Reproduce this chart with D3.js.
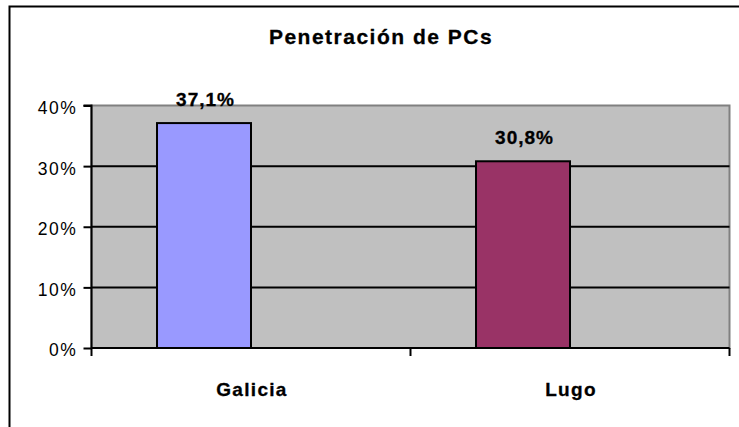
<!DOCTYPE html>
<html><head><meta charset="utf-8">
<script src="https://cdn.jsdelivr.net/npm/d3@7"></script>
<style>body{margin:0;background:#fff;}svg{display:block;}</style>
</head><body>
<svg id="c" width="739" height="427"></svg>
<script>
const categories = ["Galicia", "Lugo"];
const values = [0.371, 0.308];
const valueLabels = ["37,1%", "30,8%"];
const colors = ["#9999FF", "#993366"];
const yTicks = [0, 0.1, 0.2, 0.3, 0.4];
const yTickLabels = ["0%", "10%", "20%", "30%", "40%"];
const title = "Penetración de PCs";

const svg = d3.select("#c");
const font = "'Liberation Sans', Arial, sans-serif";

// outer frame
svg.append("rect").attr("x", 9.5).attr("y", 6.5).attr("width", 800).attr("height", 500)
  .attr("fill", "#fff").attr("stroke", "#000").attr("stroke-width", 2);

const x = d3.scaleBand().domain(categories).range([91.5, 729.5]).padding(0);
const xs = d3.scaleBand().domain(["s1", "s2"]).range([0, x.bandwidth()]).paddingInner(0).paddingOuter(0.697);
const y = d3.scaleLinear().domain([0, 0.4]).range([348, 105.5]);

// plot area
svg.append("rect").attr("x", x.range()[0]).attr("y", y(0.4))
  .attr("width", x.range()[1] - x.range()[0]).attr("height", y(0) - y(0.4))
  .attr("fill", "#C0C0C0").attr("stroke", "#808080").attr("stroke-width", 2);

// gridlines
svg.append("g").selectAll("line").data(yTicks.filter(t => t > 0 && t < 0.4)).join("line")
  .attr("x1", x.range()[0]).attr("x2", x.range()[1])
  .attr("y1", d => y(d)).attr("y2", d => y(d))
  .attr("stroke", "#000").attr("stroke-width", 2);

// bars
svg.append("g").selectAll("rect").data(categories).join("rect")
  .attr("x", d => x(d) + xs("s1"))
  .attr("y", (d, i) => y(values[i]))
  .attr("width", xs.bandwidth())
  .attr("height", (d, i) => y(0) - y(values[i]))
  .attr("fill", (d, i) => colors[i])
  .attr("stroke", "#000").attr("stroke-width", 2);

// value labels
svg.append("g").selectAll("text").data(categories).join("text")
  .attr("x", d => x(d) + xs("s1") + xs.bandwidth() / 2 + 1.5)
  .attr("y", (d, i) => y(values[i]) - 17.5)
  .attr("text-anchor", "middle")
  .attr("font-family", font).attr("font-weight", "bold").attr("font-size", 19)
  .attr("letter-spacing", 1).attr("stroke", "#000").attr("stroke-width", 0.3)
  .text((d, i) => valueLabels[i]);

// y axis
const yAxis = d3.axisLeft(y).tickValues(yTicks).tickSize(8).tickFormat((d, i) => yTickLabels[i]);
const gy = svg.append("g").attr("transform", `translate(${x.range()[0]},0)`).call(yAxis);
gy.select(".domain").attr("stroke", "#000").attr("stroke-width", 2).attr("d", `M-8,${y(0.4)}H0V${y(0)}`);
gy.selectAll(".tick line").attr("stroke", "#000").attr("stroke-width", 2);
gy.selectAll(".tick text").attr("font-family", font).attr("font-size", 17.5).attr("fill", "#000")
  .attr("x", -14).attr("dy", "0.45em").attr("letter-spacing", 1.6);

// x axis
const xTickPos = [x.range()[0], x.range()[0] + x.bandwidth(), x.range()[1]];
svg.append("line").attr("x1", x.range()[0]).attr("x2", x.range()[1])
  .attr("y1", y(0)).attr("y2", y(0)).attr("stroke", "#000").attr("stroke-width", 2);
svg.append("g").selectAll("line").data(xTickPos).join("line")
  .attr("x1", d => d).attr("x2", d => d).attr("y1", y(0)).attr("y2", y(0) + 8)
  .attr("stroke", "#000").attr("stroke-width", 2);
svg.append("g").selectAll("text").data(categories).join("text")
  .attr("x", d => x(d) + x.bandwidth() / 2 + 1)
  .attr("y", 396)
  .attr("text-anchor", "middle")
  .attr("font-family", font).attr("font-weight", "bold").attr("font-size", 19)
  .attr("letter-spacing", 1.3).attr("stroke", "#000").attr("stroke-width", 0.3)
  .text(d => d);

// title
svg.append("text").attr("x", 381).attr("y", 43.5).attr("text-anchor", "middle")
  .attr("font-family", font).attr("font-weight", "bold").attr("font-size", 21)
  .attr("letter-spacing", 1.5).attr("stroke", "#000").attr("stroke-width", 0.3).text(title);
</script>
</body></html>
